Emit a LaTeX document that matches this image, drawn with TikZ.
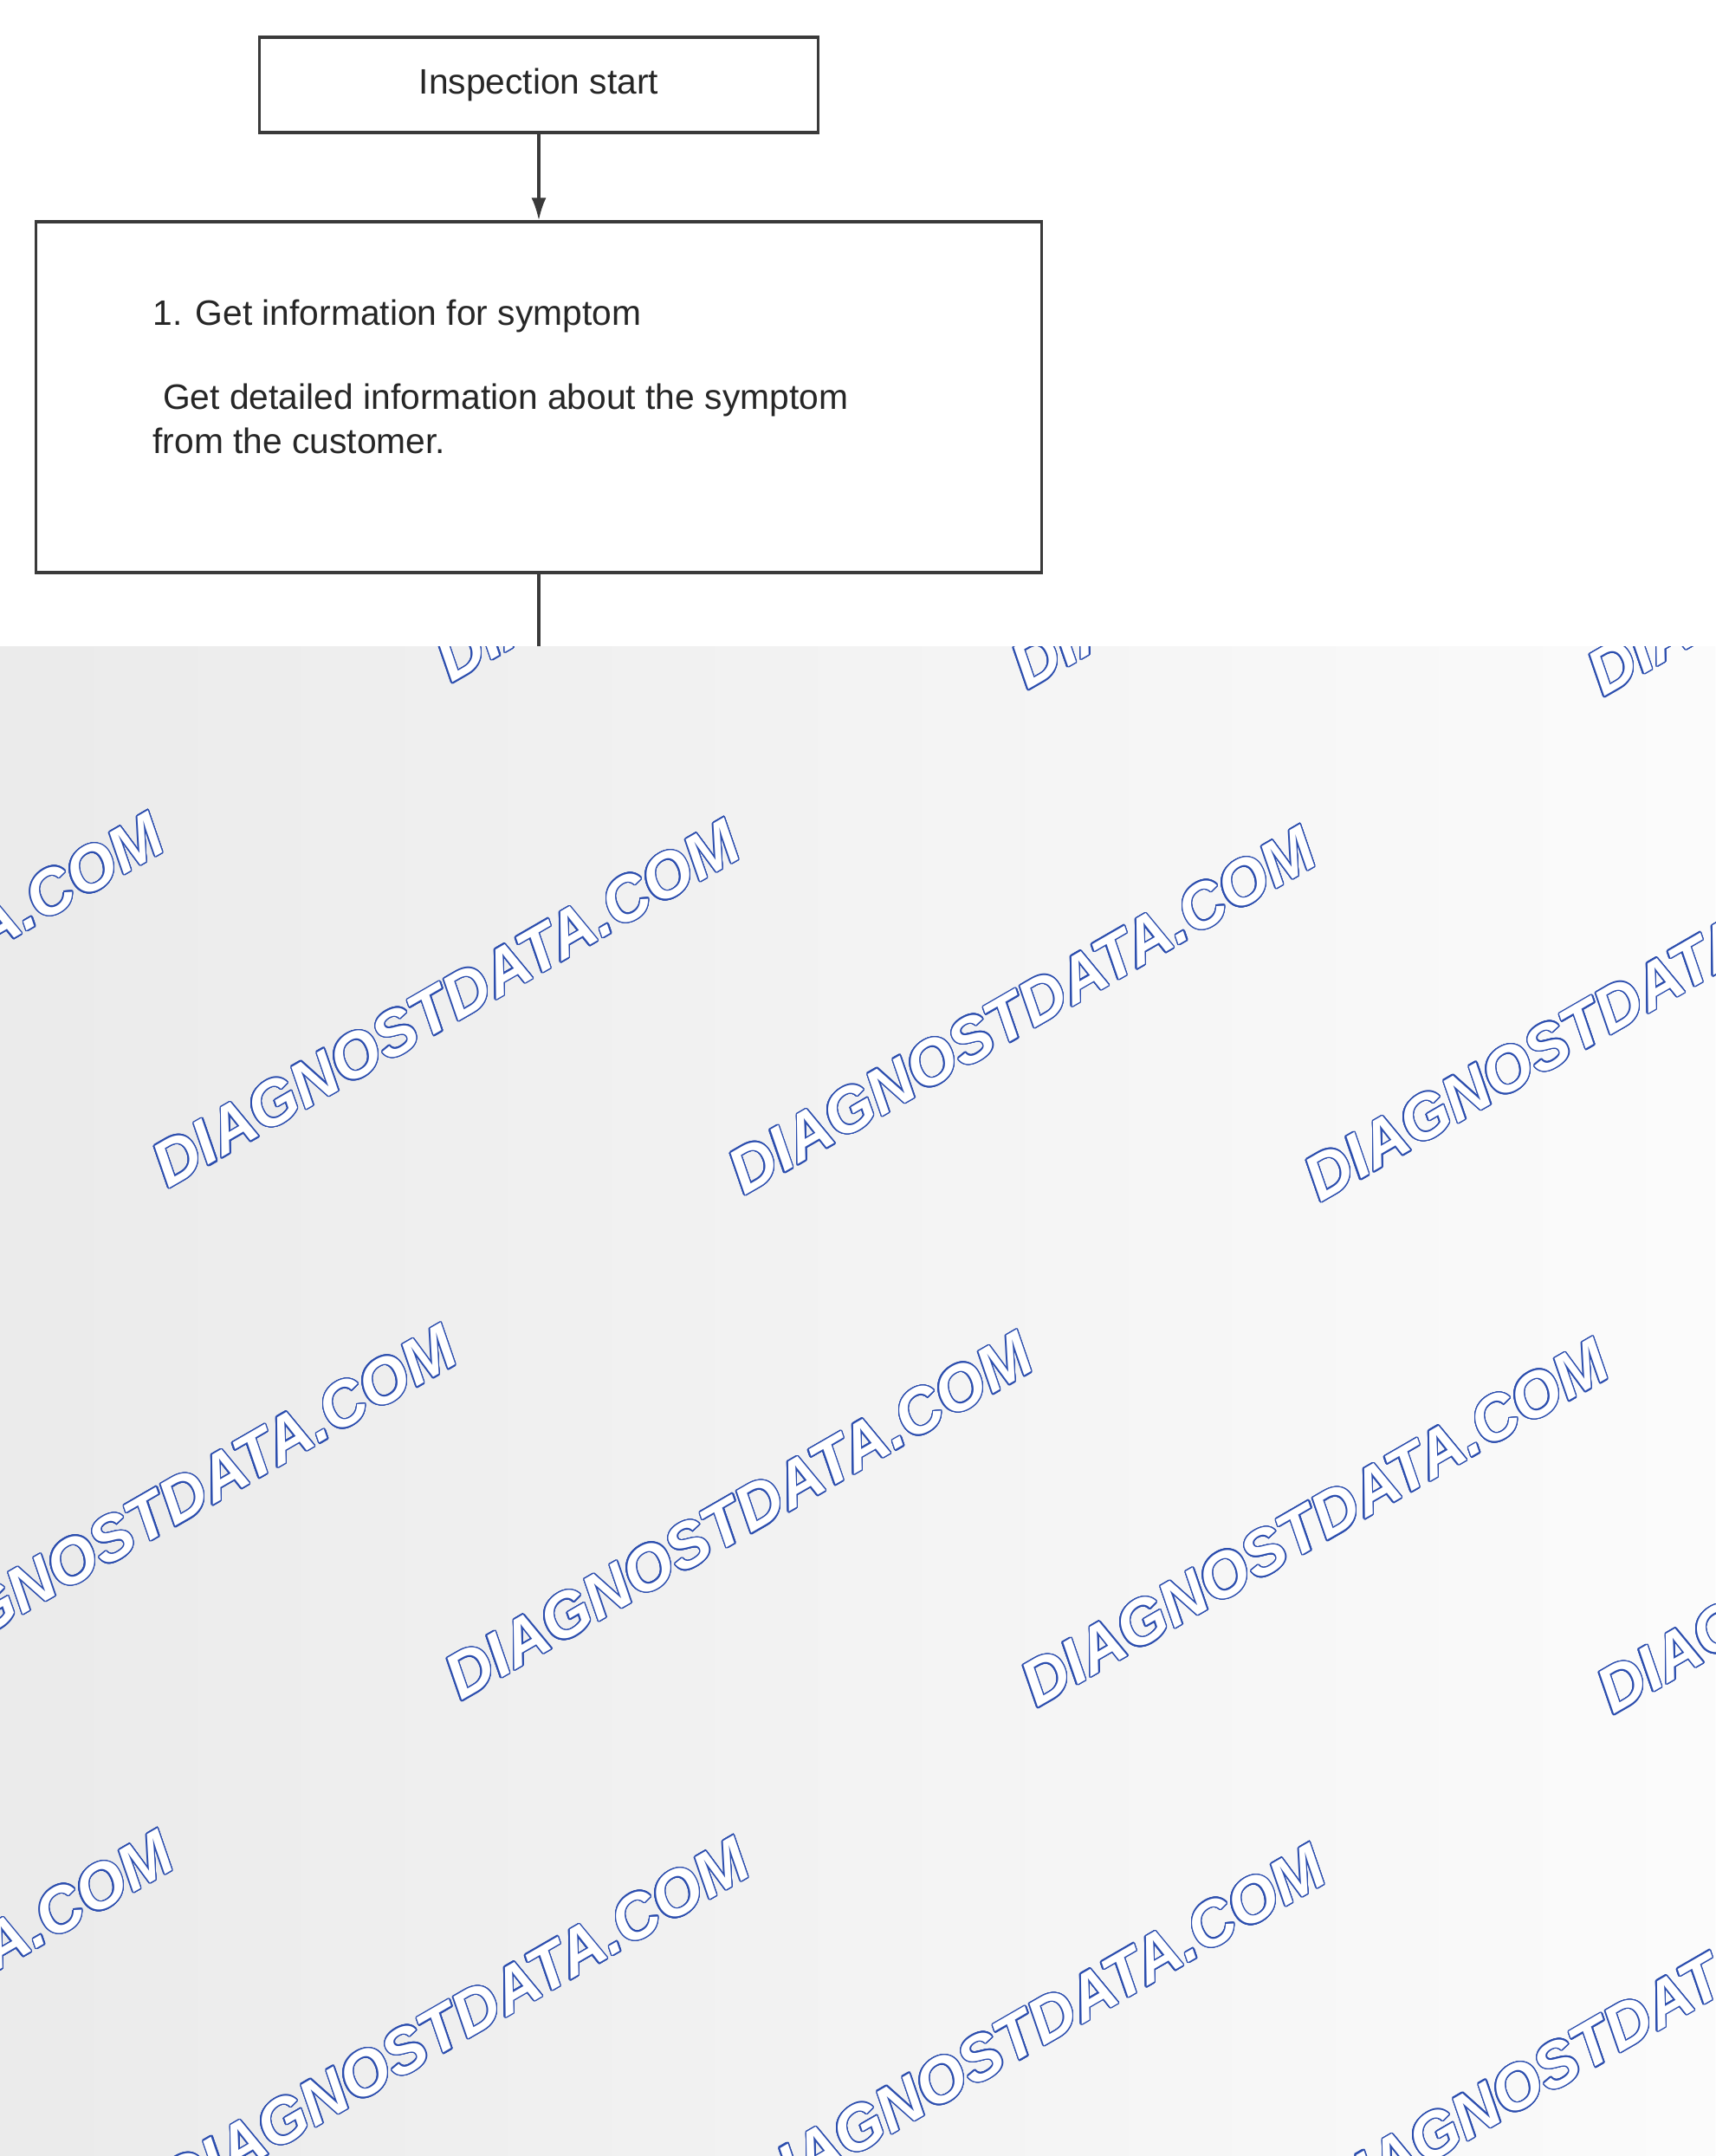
\documentclass[tikz,border=0pt]{standalone}
\usepackage{fontspec}
\setmainfont{Liberation Sans}
\usepackage{xcolor}
\usepackage{contour}
\usetikzlibrary{arrows.meta,positioning,calc}

\definecolor{wmblue}{HTML}{2B4DAE}
\definecolor{linegray}{HTML}{3A3A3A}
\contourlength{0.42pt}
\contournumber{24}
\newcommand{\wmark}{\contour{wmblue}{\textcolor{white}{DIAGNOSTDATA.COM}}}

\begin{document}
\begin{tikzpicture}[
    flowbox/.style={draw=linegray, line width=0.9pt, fill=white, inner sep=0pt},
    flowline/.style={draw=linegray, line width=0.9pt},
    flowtext/.style={font=\fontsize{11.6}{14.5}\selectfont, text=black!85},
    wmtext/.style={rotate=30, inner sep=0pt, font=\fontsize{20.8}{20.8}\selectfont\bfseries\itshape}
]
        \useasboundingbox (0,0) rectangle (19.8,-24.89);

        % Top box
        \node[flowbox, flowtext, minimum width=6.45cm, minimum height=1.10cm] (start) at (6.22,-0.98) {Inspection start};

        % Step 1 box
        \node[flowbox, minimum width=11.61cm, minimum height=4.05cm] (symptom) at (6.22,-4.585) {};
        \node[flowtext, anchor=north west, align=left, inner sep=0pt] (symptomtxt) at ($(symptom.north west)+(1.36,-0.91)$)
            {1. Get information for symptom\\[13pt]\hspace*{3.3pt}Get detailed information about the symptom\\from the customer.};

        % Connectors
        \draw[flowline, -{Latex[length=0.26cm,width=0.17cm]}] (start.south) -- (symptom.north);
        \coordinate (cut) at (6.22,-7.46);
        \draw[flowline] (symptom.south) -- (cut);

        % Watermark area
        \shade[left color=black!8, right color=black!1.5] (0,-7.46) rectangle (19.8,-24.89);
        \begin{scope}
            \clip (0,-7.46) rectangle (19.8,-24.89);
            \foreach \m in {-1,0,1,2}{
                \foreach \k in {-2,...,3}{
                    \node[wmtext] (wm\m\k) at ({5.15+6.65*\k+3.38*\m},{-11.59-0.08*\k-5.915*\m}) {\wmark};
                }
            }
        \end{scope}
    \end{tikzpicture}
\end{document}
